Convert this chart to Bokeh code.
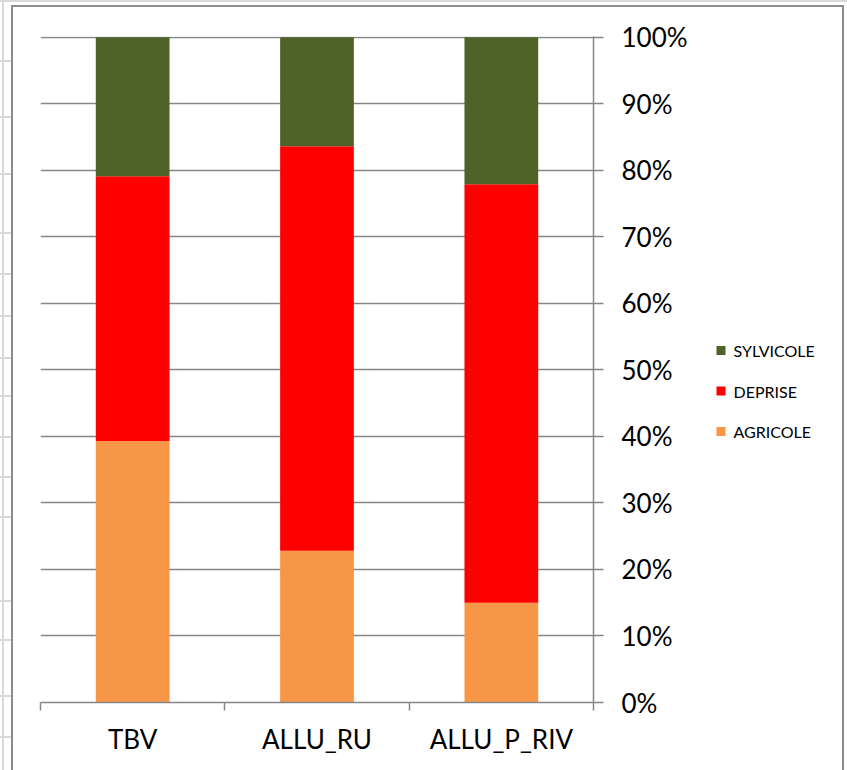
from bokeh.plotting import figure
from bokeh.models import (ColumnDataSource, FixedTicker, PrintfTickFormatter,
                          InlineStyleSheet, Range1d)
from bokeh.layouts import row
from bokeh.core.properties import value
from bokeh.embed import file_html
from bokeh.resources import INLINE

categories = ["TBV", "ALLU_RU", "ALLU_P_RIV"]
agricole = [39.3, 22.8, 15.0]
deprise = [39.8, 60.8, 62.9]
sylvicole = [20.9, 16.4, 22.1]
y_ticks = [0, 10, 20, 30, 40, 50, 60, 70, 80, 90, 100]

series = ["agricole", "deprise", "sylvicole"]
labels = ["AGRICOLE", "DEPRISE", "SYLVICOLE"]
colors = ["#F79646", "#FF0000", "#4F6228"]

xpos = [i + 0.5 for i in range(len(categories))]
src = ColumnDataSource(dict(x=xpos, agricole=agricole, deprise=deprise, sylvicole=sylvicole))

FONT = "Lato"
GRAY = "#868686"

# ---------------- main chart ----------------
p = figure(frame_width=553, frame_height=666, output_backend="svg", toolbar_location=None,
           x_range=(0, len(categories)), y_range=Range1d(0, 100.1), y_axis_location="right",
           min_border_left=40, min_border_right=100, min_border_top=36, min_border_bottom=68)
p.outline_line_color = None
p.background_fill_color = "white"
p.border_fill_color = "white"

renderers = p.vbar_stack(series, x="x", width=0.4, source=src, color=colors, line_color=None)

xa = p.xaxis[0]
xa.ticker = FixedTicker(ticks=xpos, minor_ticks=list(range(len(categories) + 1)))
xa.major_label_overrides = {x: c for x, c in zip(xpos, categories)}
xa.major_tick_out = 0
xa.major_tick_in = 0
xa.minor_tick_out = 8
xa.minor_tick_in = 0
xa.minor_tick_line_color = GRAY
xa.minor_tick_line_width = 1.5
xa.axis_line_color = GRAY
xa.axis_line_width = 1.5
xa.major_label_standoff = 12
xa.major_label_text_font = FONT
xa.major_label_text_font_size = "26px"
xa.major_label_text_color = "black"

ya = p.yaxis[0]
ya.ticker = FixedTicker(ticks=y_ticks)
ya.formatter = PrintfTickFormatter(format="%d%%")
ya.major_tick_out = 10
ya.major_tick_in = 0
ya.minor_tick_line_color = None
ya.major_tick_line_color = GRAY
ya.major_tick_line_width = 1.5
ya.axis_line_color = GRAY
ya.axis_line_width = 1.5
ya.major_label_standoff = 18
ya.major_label_text_font = FONT
ya.major_label_text_font_size = "26px"
ya.major_label_text_color = "black"
ya.major_label_text_align = "left"

p.xgrid.grid_line_color = None
p.ygrid.ticker = FixedTicker(ticks=y_ticks)
p.ygrid.grid_line_color = GRAY
p.ygrid.grid_line_width = 1.5

# ---------------- legend panel (SYLVICOLE on top) ----------------
leg_labels = labels[::-1]
leg_colors = colors[::-1]
leg_rows = list(range(len(leg_labels)))
leg_src = ColumnDataSource(dict(row=leg_rows, label=leg_labels, color=leg_colors,
                                sx=[27.5] * len(leg_rows), tx=[40] * len(leg_rows)))

p2 = figure(frame_width=154, frame_height=666, output_backend="svg", toolbar_location=None,
            x_range=Range1d(0, 154), y_range=Range1d(8.691, -7.753),
            x_axis_location=None, y_axis_location=None,
            min_border_left=0, min_border_right=0, min_border_top=36, min_border_bottom=68)
p2.grid.visible = False
p2.outline_line_color = None
p2.background_fill_color = "white"
p2.border_fill_color = "white"
p2.scatter(x="sx", y="row", marker="square", size=9, color="color", line_color=None,
           source=leg_src)
p2.text(x="tx", y="row", text="label", source=leg_src, text_font=value(FONT),
        text_font_size=value("16px"), text_baseline="middle", text_align="left",
        text_color="black")

layout = row(p, p2, spacing=0)

row_lines = [60, 116, 173, 232, 273, 315, 357, 395, 436, 476, 516, 600, 639, 695, 736]
shadows = ", ".join(f"0 {y}px 0 #d9d9d9" for y in row_lines)
p.stylesheets = [InlineStyleSheet(css=f"""
:host {{ position: relative; }}
:host::before {{
  content: ''; position: absolute; left: 0px; top: 0px; width: 11px; height: 2px;
  background: #d9d9d9; box-shadow: {shadows}; pointer-events: none; z-index: 5;
}}
:host::after {{
  content: ''; position: absolute; left: 2px; top: 0px; width: 2px; height: 770px;
  background: #d9d9d9; pointer-events: none; z-index: 5;
}}
""")]
layout.stylesheets = [InlineStyleSheet(css="""
:host { position: relative; }
:host::before {
  content: ''; position: absolute; left: 0px; top: 0px; width: 847px; height: 2px;
  background: #d9d9d9; pointer-events: none; z-index: 6;
}
:host::after {
  content: ''; position: absolute; left: 11px; top: 5px; width: 833px; height: 765px;
  border: 2px solid #8c8c8c; border-bottom: none; pointer-events: none;
  box-sizing: border-box; z-index: 7;
}
""")]

open("out.html", "w").write(file_html(layout, INLINE))
